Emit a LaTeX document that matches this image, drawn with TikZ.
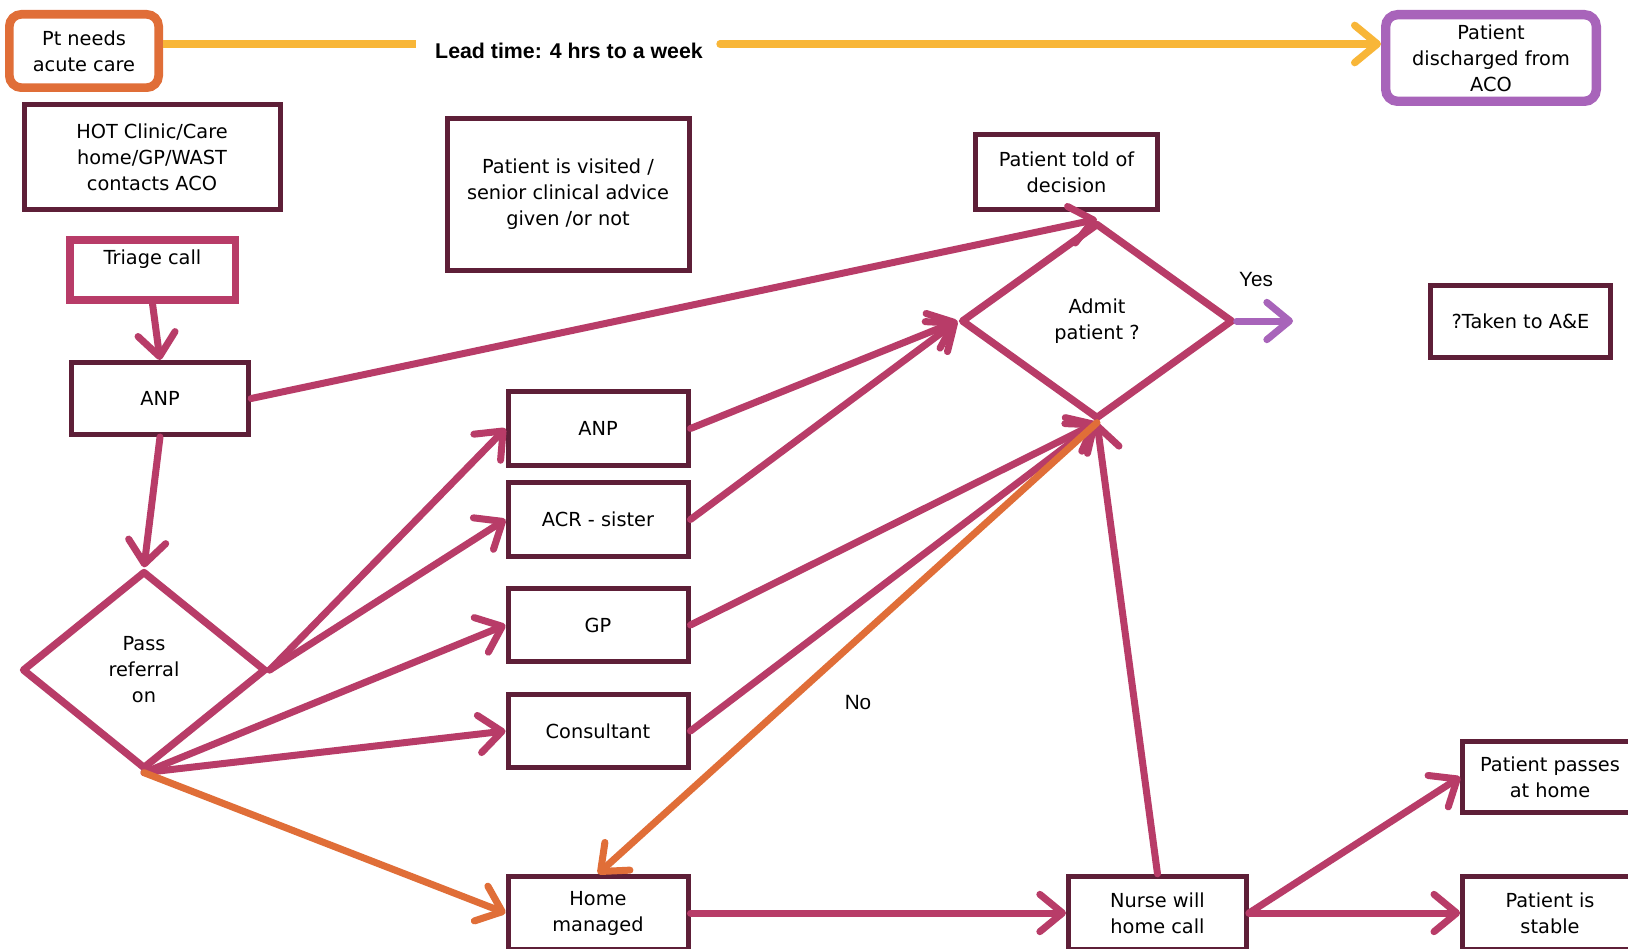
\documentclass[tikz,border=0pt]{standalone}
\usepackage{fontspec}
\setmainfont{DejaVu Sans}
\newfontfamily\arialfont{Liberation Sans}
\usetikzlibrary{arrows.meta,shapes.geometric}
\definecolor{maroonc}{HTML}{5E1F38}
\definecolor{pinkc}{HTML}{B83C68}
\definecolor{orangec}{HTML}{E06E38}
\definecolor{yellowc}{HTML}{F8B638}
\definecolor{purplec}{HTML}{A864BA}
\begin{document}
\begin{tikzpicture}[x=0.75pt,y=-0.75pt,
  font=\fontsize{14.5}{19.5}\selectfont,
  >={Straight Barb[length=17pt,width=28pt,round]},
  box/.style={draw=maroonc, line width=3.75pt, rectangle, align=center, inner sep=0pt, fill=white},
  rbox/.style={rectangle, rounded corners=9pt, align=center, inner sep=0pt, fill=white},
  dia/.style={diamond, draw=pinkc, line width=5.5pt, align=center, inner sep=0pt, line join=round, fill=white},
  conn/.style={draw=pinkc, line width=5.25pt, line cap=round, ->},
  oconn/.style={draw=orangec, line width=5.25pt, line cap=round, ->},
  lbl/.style={font=\arialfont\fontsize{15.5}{18}\selectfont, anchor=base, inner sep=0pt}
]
\clip (0,0) rectangle (1628,949);
\fill[white] (0,0) rectangle (1628,949);

% top row
\node[rbox, draw=orangec, line width=6.5pt, minimum width=112pt, minimum height=55pt] (ptneeds) at (84,51) {Pt needs\\acute care};
\node[rbox, draw=purplec, line width=7pt, minimum width=158pt, minimum height=65pt] (disch) at (1491,58) {Patient\\discharged from\\ACO};
\coordinate (yl1) at (416,44);
\coordinate (yl2) at (720,44);
\node[font=\arialfont\bfseries\fontsize{16}{19}\selectfont, anchor=base, inner sep=0pt] (lead) at (569,59) {Lead time: 4 hrs to a week};
\draw[draw=yellowc, line width=5.5pt] (ptneeds.east |- yl1) -- (yl1);
\draw[draw=yellowc, line width=5.5pt, line cap=round, ->] (yl2) -- (yl2 -| disch.west);

% boxes
\node[box, minimum width=192pt, minimum height=78pt] (hot) at (152,157) {HOT Clinic/Care\\home/GP/WAST\\contacts ACO};
\node[box, minimum width=181.5pt, minimum height=114pt] (visited) at (568,194.5) {Patient is visited /\\senior clinical advice\\given /or not};
\node[box, minimum width=136.5pt, minimum height=56pt] (told) at (1066.5,172) {Patient told of\\decision};
\node[rectangle, draw=pinkc, line width=5.5pt, inner sep=0pt, minimum width=124pt, minimum height=45pt, fill=white] (triage) at (152.5,270) {};
\node[inner sep=0pt] (triaget) at (152.5,259) {Triage call};
\node[box, minimum width=135pt, minimum height=54pt] (taken) at (1520.5,321.5) {?Taken to A\&E};
\node[box, minimum width=133pt, minimum height=54pt] (anp1) at (160,398.5) {ANP};

\node[box, minimum width=135pt, minimum height=55.5pt] (anp2) at (598,428.5) {ANP};
\node[box, minimum width=135pt, minimum height=55pt] (acr) at (598,519.5) {ACR - sister};
\node[box, minimum width=135pt, minimum height=55pt] (gp) at (598,625) {GP};
\node[box, minimum width=135pt, minimum height=55pt] (cons) at (598,731) {Consultant};
\node[box, minimum width=135pt, minimum height=55pt] (home) at (598,913) {Home\\managed};
\node[box, minimum width=133.5pt, minimum height=55pt] (nurse) at (1157.5,913) {Nurse will\\home call};
\node[box, minimum width=131pt, minimum height=53pt] (passes) at (1550,777) {Patient passes\\at home};
\node[box, minimum width=131pt, minimum height=55pt] (stable) at (1550,913) {Patient is\\stable};

% diamonds
\node[dia, minimum width=204pt, minimum height=147pt] (admit) at (1097,321) {Admit\\patient ?};
\node[dia, minimum width=183pt, minimum height=148.5pt] (pass) at (144,670) {Pass\\referral\\on};

% labels
\node[lbl] (yes) at (1256,286) {Yes};
\node[lbl] (no) at (858,709) {No};
\coordinate (yesend) at (1293,321);

% connectors
\draw[conn] (triage.south) -- (anp1.north);
\draw[conn] (anp1.south) -- (pass.north);
\draw[conn] (anp1.east) -- (admit.north);
\draw[conn] (pass.east) -- (anp2.west);
\draw[conn] (pass.east) -- (acr.west);
\draw[conn] (pass.south) -- (gp.west);
\draw[conn] (pass.south) -- (cons.west);
\draw[oconn] (pass.south) -- (home.west);
\draw[conn] (anp2.east) -- (admit.west);
\draw[conn] (acr.east) -- (admit.west);
\draw[conn] (gp.east) -- (admit.south);
\draw[conn] (cons.east) -- (admit.south);
\draw[conn] (nurse.north) -- (admit.south);
\draw[oconn] (admit.south) -- (home.north);
\draw[conn] (home.east) -- (nurse.west);
\draw[conn] (nurse.east) -- (passes.west);
\draw[conn] (nurse.east) -- (stable.west);
\draw[draw=purplec, line width=5.25pt, line cap=round, ->] (admit.east) -- (yesend);
\end{tikzpicture}
\end{document}
